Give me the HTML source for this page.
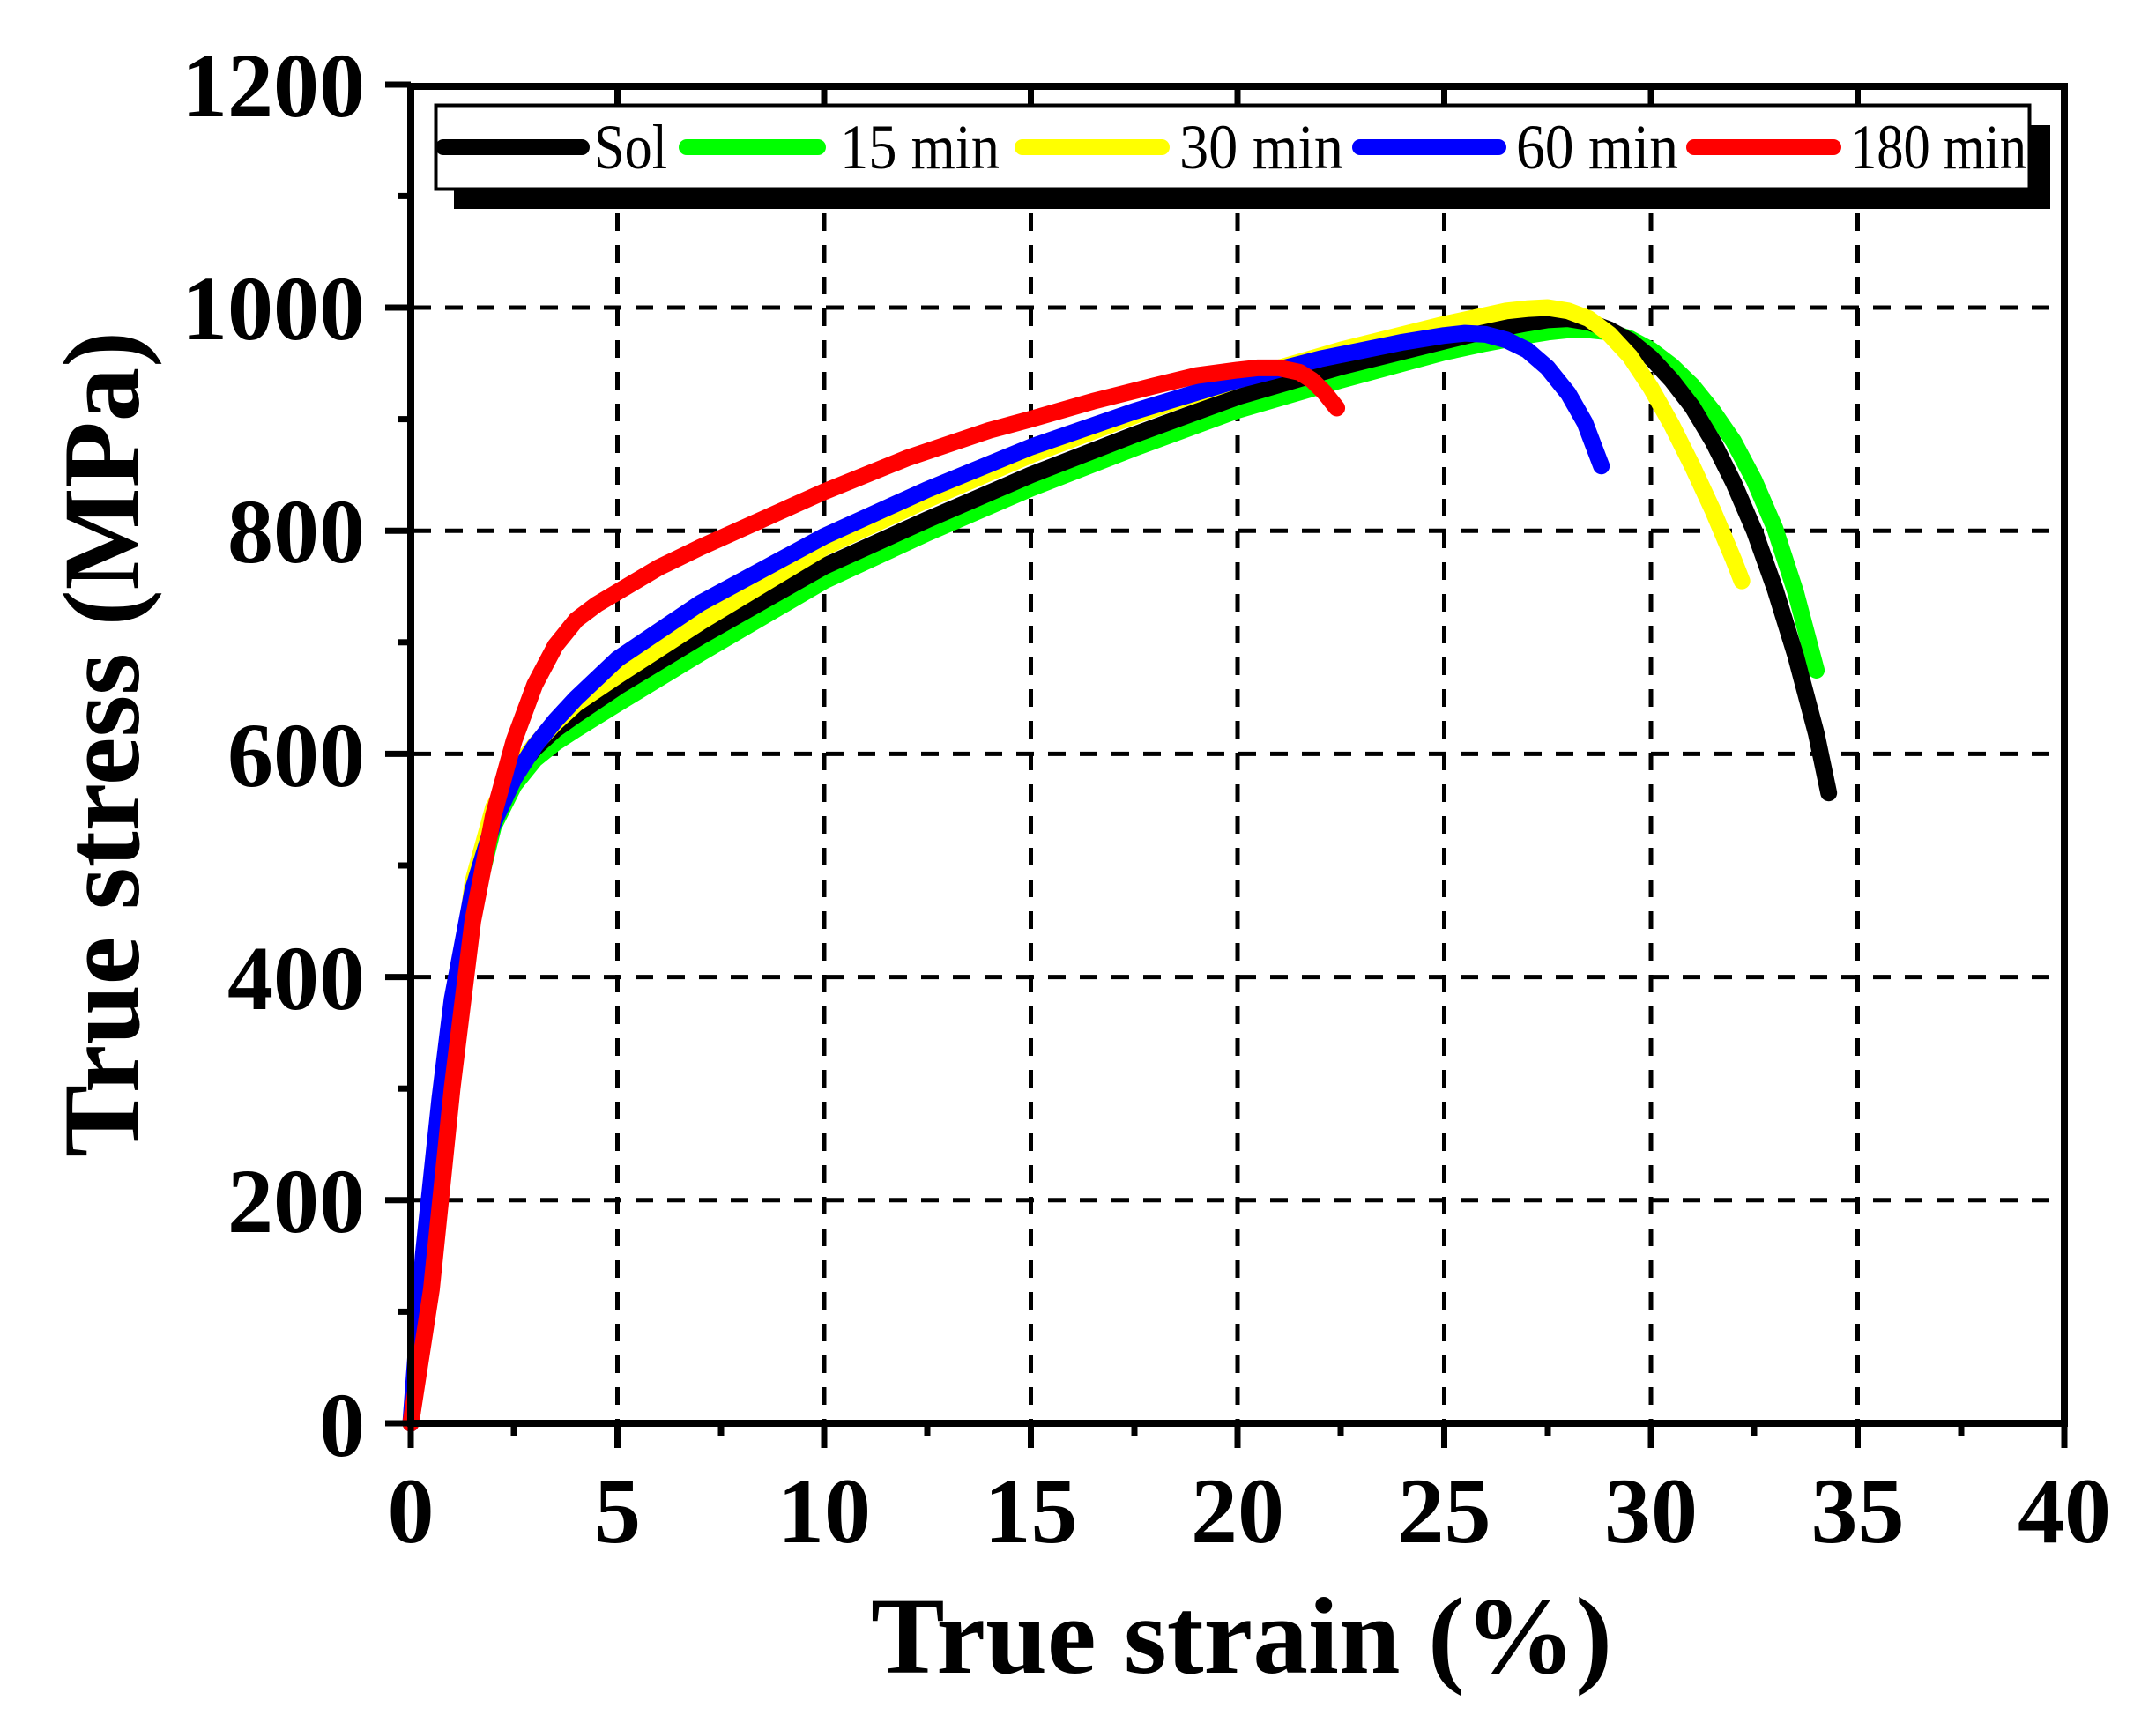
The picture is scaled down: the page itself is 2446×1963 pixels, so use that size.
<!DOCTYPE html>
<html><head><meta charset="utf-8"><style>html,body{margin:0;padding:0;background:#fff}svg{display:block}</style></head>
<body>
<svg width="2446" height="1963" viewBox="0 0 2446 1963" xmlns="http://www.w3.org/2000/svg" font-family="'Liberation Serif', serif">
<rect width="2446" height="1963" fill="#fff"/>
<g stroke="#000" stroke-width="5" stroke-dasharray="20 16">
<line x1="700.5" y1="98" x2="700.5" y2="1612"/>
<line x1="935" y1="98" x2="935" y2="1612"/>
<line x1="1169.5" y1="98" x2="1169.5" y2="1612"/>
<line x1="1404" y1="98" x2="1404" y2="1612"/>
<line x1="1638.5" y1="98" x2="1638.5" y2="1612"/>
<line x1="1873" y1="98" x2="1873" y2="1612"/>
<line x1="2107.5" y1="98" x2="2107.5" y2="1612"/>
<line x1="469" y1="1361.8" x2="2339" y2="1361.8"/>
<line x1="469" y1="1108.6" x2="2339" y2="1108.6"/>
<line x1="469" y1="855.4" x2="2339" y2="855.4"/>
<line x1="469" y1="602.2" x2="2339" y2="602.2"/>
<line x1="469" y1="349" x2="2339" y2="349"/>
</g>
<rect x="515" y="142" width="1811" height="95" fill="#000"/>
<rect x="494.5" y="119.5" width="1808" height="95" fill="#fff" stroke="#000" stroke-width="4"/>
<g stroke-width="18" stroke-linecap="round">
<line x1="503" y1="167" x2="660" y2="167" stroke="#000"/>
<line x1="779" y1="167" x2="928" y2="167" stroke="#00ff00"/>
<line x1="1160" y1="167" x2="1318" y2="167" stroke="#ffff00"/>
<line x1="1543" y1="167" x2="1700" y2="167" stroke="#0000ff"/>
<line x1="1922" y1="167" x2="2080" y2="167" stroke="#ff0000"/>
</g>
<g font-size="72" fill="#000">
<text x="674" y="191" textLength="83" lengthAdjust="spacingAndGlyphs">Sol</text>
<text x="953" y="191" textLength="181" lengthAdjust="spacingAndGlyphs">15 min</text>
<text x="1338" y="191" textLength="186" lengthAdjust="spacingAndGlyphs">30 min</text>
<text x="1720" y="191" textLength="184" lengthAdjust="spacingAndGlyphs">60 min</text>
<text x="2099" y="191" textLength="200" lengthAdjust="spacingAndGlyphs">180 min</text>
</g>
<g transform="translate(466,1615) scale(46.9,-1.266)" fill="none" stroke-width="19" stroke-linecap="round" stroke-linejoin="round">
<polyline vector-effect="non-scaling-stroke" stroke="#00ff00" points="0,0 0.5,130 1,310 1.5,460 2,535 2.5,572 3,595 3.5,610 4,622 5,645 7,690 10,755 12.5,798 15,838 17.5,874 20,908 22.5,935 25,960 26,968 27,975 27.5,978 28,980 28.5,980 29,978 29.5,972 30,962 30.5,948 31,930 31.5,907 32,880 32.5,845 33,802 33.5,745 34,675"/>
<polyline vector-effect="non-scaling-stroke" stroke="#000" points="0,0 0.5,150 1,330 1.5,480 2,548 2.5,582 3,605 3.5,622 4,635 5,660 7,705 10,768 12.5,810 15,850 17.5,886 20,920 22.5,947 25,970 26,979 27,986 27.5,989 28,990 28.5,987 29,980 29.5,970 30,955 30.5,935 31,911 31.5,880 32,843 32.5,800 33,748 33.5,688 34,618 34.3,565"/>
<polyline vector-effect="non-scaling-stroke" stroke="#ffff00" points="0,0 0.5,150 1,335 1.5,485 2,552 2.5,585 3,608 3.5,628 4,645 5,670 7,718 10,785 12.5,828 15,868 17.5,903 20,935 22.5,962 25,985 26,993 26.5,997 27,999 27.5,1000 28,997 28.5,990 29,976 29.5,956 30,928 30.5,895 31,858 31.5,818 32,774 32.2,755"/>
<polyline vector-effect="non-scaling-stroke" stroke="#0000ff" points="0,0 0.3,150 0.7,290 1,380 1.5,478 2,538 2.5,578 3,607 3.5,630 4,650 5,685 7,735 10,795 12.5,837 15,875 17.5,907 20,935 22,954 24,969 25,975 25.5,977 26,976 26.5,971 27,962 27.5,946 28,923 28.4,897 28.8,858"/>
<polyline vector-effect="non-scaling-stroke" stroke="#ff0000" points="0,0 0.5,120 1,300 1.5,450 2,545 2.5,612 3,662 3.5,697 4,720 4.5,734 5,745 6,767 7,785 8.5,810 10,835 12,865 14,890 15,900 16.5,916 18,930 19,939 20,944 20.5,946 21,946 21.5,942 21.8,935 22.1,924 22.4,910"/>
</g>
<rect x="466" y="98" width="1876" height="1517" fill="none" stroke="#000" stroke-width="8"/>
<g stroke="#000" stroke-width="7">
<line x1="466" y1="1615" x2="466" y2="1643"/><line x1="700.5" y1="1615" x2="700.5" y2="1643"/><line x1="935" y1="1615" x2="935" y2="1643"/><line x1="1169.5" y1="1615" x2="1169.5" y2="1643"/><line x1="1404" y1="1615" x2="1404" y2="1643"/><line x1="1638.5" y1="1615" x2="1638.5" y2="1643"/><line x1="1873" y1="1615" x2="1873" y2="1643"/><line x1="2107.5" y1="1615" x2="2107.5" y2="1643"/><line x1="2342" y1="1615" x2="2342" y2="1643"/>
<line x1="583" y1="1615" x2="583" y2="1629"/><line x1="818" y1="1615" x2="818" y2="1629"/><line x1="1052" y1="1615" x2="1052" y2="1629"/><line x1="1287" y1="1615" x2="1287" y2="1629"/><line x1="1521" y1="1615" x2="1521" y2="1629"/><line x1="1756" y1="1615" x2="1756" y2="1629"/><line x1="1990" y1="1615" x2="1990" y2="1629"/><line x1="2225" y1="1615" x2="2225" y2="1629"/>
<line x1="700.5" y1="98" x2="700.5" y2="118"/><line x1="935" y1="98" x2="935" y2="118"/><line x1="1169.5" y1="98" x2="1169.5" y2="118"/><line x1="1404" y1="98" x2="1404" y2="118"/><line x1="1638.5" y1="98" x2="1638.5" y2="118"/><line x1="1873" y1="98" x2="1873" y2="118"/><line x1="2107.5" y1="98" x2="2107.5" y2="118"/>
<line x1="437" y1="1615" x2="466" y2="1615"/><line x1="437" y1="1361.8" x2="466" y2="1361.8"/><line x1="437" y1="1108.6" x2="466" y2="1108.6"/><line x1="437" y1="855.4" x2="466" y2="855.4"/><line x1="437" y1="602.2" x2="466" y2="602.2"/><line x1="437" y1="349" x2="466" y2="349"/><line x1="437" y1="96" x2="466" y2="96"/>
<line x1="451" y1="1488.4" x2="466" y2="1488.4"/><line x1="451" y1="1235.2" x2="466" y2="1235.2"/><line x1="451" y1="982" x2="466" y2="982"/><line x1="451" y1="728.8" x2="466" y2="728.8"/><line x1="451" y1="475.6" x2="466" y2="475.6"/><line x1="451" y1="222.4" x2="466" y2="222.4"/>
</g>
<g font-size="104" font-weight="bold" fill="#000" text-anchor="end">
<text x="414" y="1652">0</text>
<text x="414" y="1398">200</text>
<text x="414" y="1145">400</text>
<text x="414" y="892">600</text>
<text x="414" y="638">800</text>
<text x="414" y="385">1000</text>
<text x="414" y="132">1200</text>
</g>
<g font-size="106" font-weight="bold" fill="#000" text-anchor="middle">
<text x="466" y="1750">0</text>
<text x="700.5" y="1750">5</text>
<text x="935" y="1750">10</text>
<text x="1169.5" y="1750">15</text>
<text x="1404" y="1750">20</text>
<text x="1638.5" y="1750">25</text>
<text x="1873" y="1750">30</text>
<text x="2107.5" y="1750">35</text>
<text x="2342" y="1750">40</text>
</g>
<text x="988" y="1898" font-size="124" font-weight="bold" textLength="841" lengthAdjust="spacingAndGlyphs">True strain (%)</text>
<text transform="translate(157,1313) rotate(-90)" font-size="124" font-weight="bold" textLength="937" lengthAdjust="spacingAndGlyphs">True stress (MPa)</text>
</svg>
</body></html>
